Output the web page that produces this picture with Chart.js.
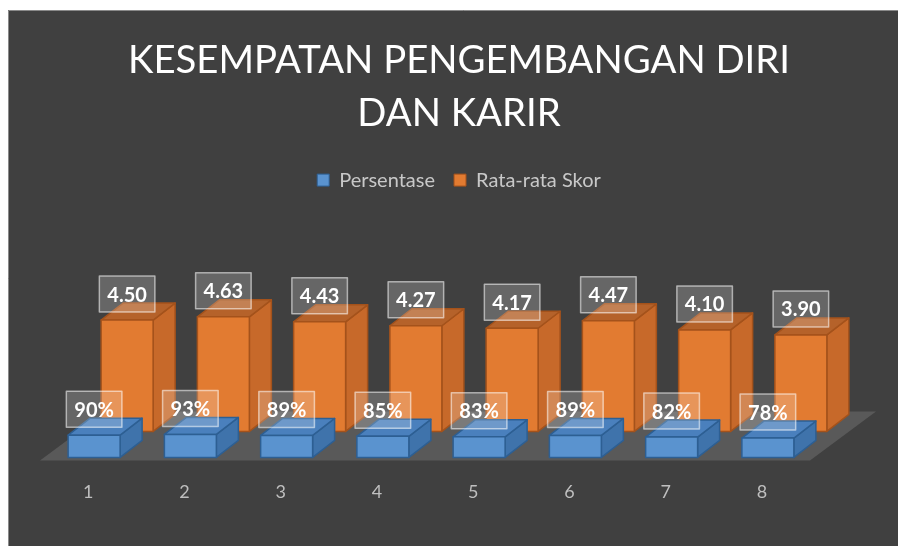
<!DOCTYPE html>
<html>
<head>
<meta charset="utf-8">
<script src="https://cdn.jsdelivr.net/npm/chart.js@4.4.0/dist/chart.umd.min.js"></script>
<style>
  html, body { margin: 0; padding: 0; background: #fff; overflow: hidden; }
  #chart { position: absolute; left: 0; top: 0; }
</style>
</head>
<body>
<canvas id="chart" width="918" height="546"></canvas>
<script>
const categories = ['1', '2', '3', '4', '5', '6', '7', '8'];
const persentase = [90, 93, 89, 85, 83, 89, 82, 78];
const rataRataSkor = [4.50, 4.63, 4.43, 4.27, 4.17, 4.47, 4.10, 3.90];

const blue = { front: '#5a93cf', top: '#4a80bd', side: '#3f73ab', edge: '#2d5f93' };
const orange = { front: '#e27b31', top: '#b5622a', side: '#c7692a', edge: '#a4521b' };

// depth of a single box and shift of the back row
const depth = { dx: 22, dy: -17 };
const frontShift = 6;
const backRow = { dx: 33, dy: -26 };

function drawBox(ctx, x, top, bottom, w, c) {
    const l = x - w / 2, r = x + w / 2;
    ctx.lineWidth = 1.5;
    ctx.strokeStyle = c.edge;
    ctx.lineJoin = 'round';
    // side
    ctx.beginPath();
    ctx.moveTo(r, bottom);
    ctx.lineTo(r + depth.dx, bottom + depth.dy);
    ctx.lineTo(r + depth.dx, top + depth.dy);
    ctx.lineTo(r, top);
    ctx.closePath();
    ctx.fillStyle = c.side;
    ctx.fill();
    ctx.stroke();
    // top
    ctx.beginPath();
    ctx.moveTo(l, top);
    ctx.lineTo(l + depth.dx, top + depth.dy);
    ctx.lineTo(r + depth.dx, top + depth.dy);
    ctx.lineTo(r, top);
    ctx.closePath();
    ctx.fillStyle = c.top;
    ctx.fill();
    ctx.stroke();
    // front
    ctx.beginPath();
    ctx.rect(l, top, w, bottom - top);
    ctx.fillStyle = c.front;
    ctx.fill();
    ctx.stroke();
}

function drawLabel(ctx, text, x, y) {
    ctx.font = 'bold 20px Lato';
    const w = ctx.measureText(text).width + 16;
    const h = 36;
    ctx.fillStyle = 'rgba(255,255,255,0.2)';
    ctx.fillRect(x - w / 2, y - h / 2, w, h);
    ctx.strokeStyle = 'rgba(255,255,255,0.55)';
    ctx.lineWidth = 1.5;
    ctx.strokeRect(x - w / 2, y - h / 2, w, h);
    ctx.fillStyle = '#ffffff';
    ctx.textAlign = 'center';
    ctx.textBaseline = 'middle';
    ctx.fillText(text, x, y + 1);
}

const backgroundPlugin = {
    id: 'background',
    beforeDraw(chart) {
        const ctx = chart.ctx;
        ctx.save();
        ctx.fillStyle = '#ffffff';
        ctx.fillRect(0, 0, chart.width, chart.height);
        ctx.fillStyle = '#404040';
        ctx.fillRect(8, 10, chart.width - 8, chart.height - 10);
        ctx.strokeStyle = '#8a8a8a';
        ctx.lineWidth = 1;
        ctx.beginPath();
        ctx.moveTo(8.5, chart.height);
        ctx.lineTo(8.5, 10.5);
        ctx.lineTo(chart.width, 10.5);
        ctx.stroke();
        ctx.restore();
    }
};

const boxesPlugin = {
    id: 'boxes3d',
    beforeDatasetDraw() {
        return false;
    },
    afterDatasetsDraw(chart) {
        const ctx = chart.ctx;
        const area = chart.chartArea;
        const blueBars = chart.getDatasetMeta(0).data;
        const orangeBars = chart.getDatasetMeta(1).data;
        const base = blueBars[0].base;
        ctx.save();
        // floor
        ctx.beginPath();
        ctx.moveTo(area.left, base + 3);
        ctx.lineTo(area.right, base + 3);
        ctx.lineTo(area.right + 66, base + 3 - 49);
        ctx.lineTo(area.left + 66, base + 3 - 49);
        ctx.closePath();
        ctx.fillStyle = '#595959';
        ctx.fill();
        // back row
        orangeBars.forEach((bar) => {
            const x = bar.x + frontShift + backRow.dx;
            drawBox(ctx, x, bar.y + backRow.dy, bar.base + backRow.dy, bar.width, orange);
        });
        orangeBars.forEach((bar, i) => {
            const x = bar.x + frontShift + backRow.dx;
            drawLabel(ctx, rataRataSkor[i].toFixed(2), x, bar.y + backRow.dy - 26);
        });
        // front row
        blueBars.forEach((bar) => {
            drawBox(ctx, bar.x + frontShift, bar.y, bar.base, bar.width, blue);
        });
        blueBars.forEach((bar, i) => {
            drawLabel(ctx, persentase[i] + '%', bar.x + frontShift, bar.y - 26);
        });
        ctx.restore();
    }
};

const hiddenAxis = {
    grid: { display: false, drawTicks: false },
    border: { display: false },
    ticks: { display: false }
};

new Chart(document.getElementById('chart'), {
    type: 'bar',
    data: {
        labels: categories,
        datasets: [
            {
                label: 'Persentase',
                data: persentase.map(v => v / 100),
                backgroundColor: blue.front,
                borderColor: blue.edge,
                borderWidth: 1,
                grouped: false
            },
            {
                label: 'Rata-rata Skor',
                data: rataRataSkor,
                backgroundColor: orange.front,
                borderColor: orange.edge,
                borderWidth: 1,
                grouped: false
            }
        ]
    },
    options: {
        responsive: false,
        animation: false,
        devicePixelRatio: 1,
        layout: {
            padding: { left: 0, right: 0, top: 0, bottom: 19 }
        },
        datasets: {
            bar: { categoryPercentage: 1, barPercentage: 0.54 }
        },
        scales: {
            x: {
                grid: { display: false, drawTicks: false },
                border: { display: false },
                ticks: {
                    color: '#bfbfbf',
                    padding: 24,
                    font: { family: 'Lato', size: 18 }
                }
            },
            y: {
                ...hiddenAxis,
                position: 'left',
                min: 0,
                max: 10.4,
                afterFit(scale) { scale.width = 40; }
            },
            yRight: {
                ...hiddenAxis,
                type: 'linear',
                position: 'right',
                afterFit(scale) { scale.width = 108; }
            }
        },
        plugins: {
            title: {
                display: true,
                text: ['KESEMPATAN PENGEMBANGAN DIRI', 'DAN KARIR'],
                color: '#ffffff',
                font: { family: 'Lato', size: 38.3, weight: '400', lineHeight: 1.385 },
                padding: { top: 34, bottom: 11 }
            },
            legend: {
                position: 'top',
                labels: {
                    color: '#c8c8c8',
                    font: { family: 'Lato', size: 20 },
                    boxWidth: 12,
                    boxHeight: 12,
                    padding: 19
                }
            },
            tooltip: { enabled: false }
        }
    },
    plugins: [backgroundPlugin, boxesPlugin]
});
</script>
</body>
</html>
